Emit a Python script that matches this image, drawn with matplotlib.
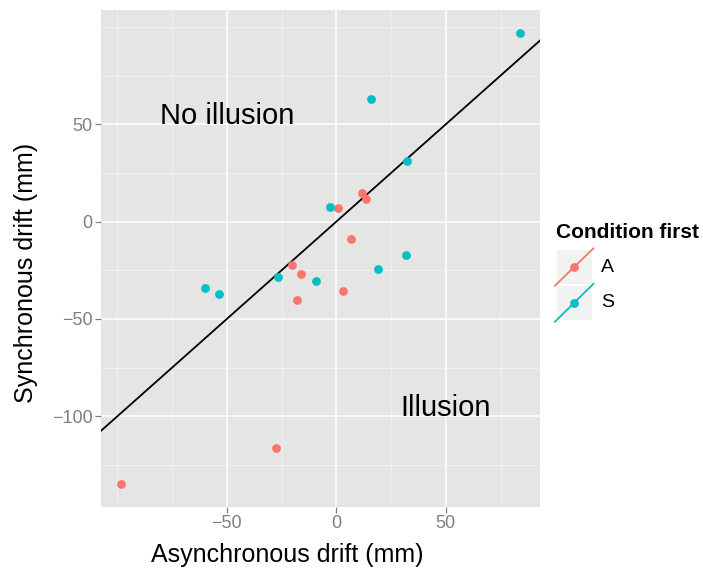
import matplotlib
matplotlib.use("Agg")
import matplotlib.pyplot as plt
import numpy as np
from matplotlib.ticker import FixedLocator

plt.rcParams['font.family'] = ['Liberation Sans', 'DejaVu Sans']

# data
async_A = [11.7, 13.7, 0.6, 6.8, -20.2, -16.0, 3.2, -17.9, -27.5, -98.4]
sync_A = [14.8, 11.5, 7.0, -8.9, -22.5, -26.9, -35.7, -40.3, -116.4, -134.9]
async_S = [83.9, 15.8, 32.2, -3.0, 31.8, -26.6, -9.1, 19.2, -60.2, -53.5]
sync_S = [97.1, 63.1, 31.0, 7.5, -17.2, -28.6, -30.5, -24.4, -34.1, -37.2]
groups = ["A", "S"]
colors = ["#F8766D", "#00BFC4"]
x_major = [-50, 0, 50]
x_minor = [-100, -75, -25, 25, 75]
y_major = [-100, -50, 0, 50]
y_minor = [-125, -75, -25, 25, 75, 100]
labels_text = ["No illusion", "Illusion"]
labels_xy = [(-50, 50), (50, -100)]

W, H = 703, 570
fig = plt.figure(figsize=(W / 100, H / 100), dpi=100)
fig.patch.set_facecolor("white")

def px_axes(x0, y0, x1, y1):
    return fig.add_axes([x0 / W, 1 - y1 / H, (x1 - x0) / W, (y1 - y0) / H])

ax = px_axes(101, 10, 540, 506.7)
ax.set_facecolor("#E5E5E5")
allx = async_A + async_S
ally = sync_A + sync_S
xr = max(allx) - min(allx)
yr = max(ally) - min(ally)
ax.set_xlim(min(allx) - 0.05 * xr, max(allx) + 0.05 * xr)
ax.set_ylim(min(ally) - 0.05 * yr, max(ally) + 0.05 * yr)

for v in x_minor:
    ax.axvline(v, color="#F2F2F2", lw=0.6, zorder=0.5)
for v in y_minor:
    ax.axhline(v, color="#F2F2F2", lw=0.6, zorder=0.5)
for v in x_major:
    ax.axvline(v, color="white", lw=1.1, zorder=0.6)
for v in y_major:
    ax.axhline(v, color="white", lw=1.1, zorder=0.6)

ax.axline((0, 0), slope=1, color="black", lw=1.3, zorder=2)

ax.scatter(async_A, sync_A, s=40, color=colors[0], zorder=3, linewidths=0)
ax.scatter(async_S, sync_S, s=40, color=colors[1], zorder=3, linewidths=0)

for t, (tx, ty) in zip(labels_text, labels_xy):
    ax.text(tx, ty, t, fontsize=21, ha="center", va="baseline", color="black", zorder=4)

for sp in ax.spines.values():
    sp.set_visible(False)
ax.xaxis.set_major_locator(FixedLocator(x_major))
ax.yaxis.set_major_locator(FixedLocator(y_major))
ax.set_xticklabels(["\u221250", "0", "50"])
ax.set_yticklabels(["\u2212100", "\u221250", "0", "50"])
ax.tick_params(axis="both", which="major", length=4, width=0.9, color="#7F7F7F",
               labelcolor="#7F7F7F", labelsize=13, pad=2)

fig.text(287 / W, 1 - 562 / H, "Asynchronous drift (mm)", fontsize=18,
         ha="center", va="baseline", color="black")
fig.text(26 / W, 1 - 273 / H, "Synchronous drift (mm)", fontsize=18, rotation=90,
         ha="center", va="center", color="black")

# legend
fig.text(556 / W, 1 - 233 / H, "Condition first", fontsize=15, fontweight="bold",
         ha="left", va="center")
key_boxes = [(556.7, 250, 591.7, 284), (556.7, 285.5, 591.7, 320)]
for (x0, y0, x1, y1), g, c in zip(key_boxes, groups, colors):
    kax = px_axes(x0, y0, x1, y1)
    kax.set_facecolor("#F2F2F2")
    kax.set_xlim(0, 1)
    kax.set_ylim(0, 1)
    kax.plot([-0.05, 1.05], [-0.05, 1.05], color=c, lw=1.3, clip_on=False)
    kax.scatter([0.5], [0.5], s=40, color=c, linewidths=0, zorder=3)
    kax.set_xticks([])
    kax.set_yticks([])
    for sp in kax.spines.values():
        sp.set_visible(False)
    fig.text(601 / W, 1 - ((y0 + y1) / 2) / H, g, fontsize=14, ha="left", va="center")

fig.savefig("out.png", dpi=100)
